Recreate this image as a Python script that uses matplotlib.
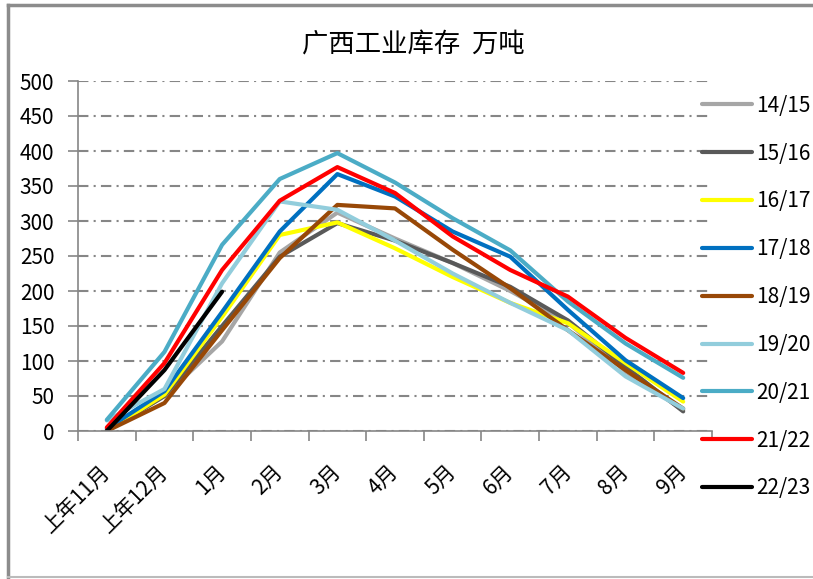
import matplotlib.pyplot as plt
from matplotlib.lines import Line2D

plt.rcParams['font.family'] = ['Noto Sans CJK SC', 'DejaVu Sans']

months = ["上年11月", "上年12月", "1月", "2月", "3月", "4月", "5月", "6月", "7月", "8月", "9月"]

s1415 = [0, 50, 128, 255, 312, 275, 240, 200, 155, 85, 30]
s1516 = [0, 50, 150, 249, 297, 272, 240, 206, 158, 92, 28]
s1617 = [0, 52, 163, 280, 298, 261, 220, 183, 154, 97, 42]
s1718 = [3, 57, 170, 285, 367, 335, 285, 249, 173, 101, 47]
s1819 = [0, 40, 144, 247, 323, 318, 259, 204, 144, 87, 32]
s1920 = [15, 60, 211, 328, 316, 272, 225, 183, 144, 78, 32]
s2021 = [16, 113, 266, 360, 397, 355, 304, 258, 185, 125, 76]
s2122 = [5, 97, 230, 329, 377, 340, 278, 230, 192, 133, 83]
s2223 = [0, 87, 199]

labels = ["14/15", "15/16", "16/17", "17/18", "18/19", "19/20", "20/21", "21/22", "22/23"]
series = [s1415, s1516, s1617, s1718, s1819, s1920, s2021, s2122, s2223]
colors = ["#A6A6A6", "#595959", "#FFFF00", "#0070C0", "#984807",
          "#92CDDC", "#4BACC6", "#FF0000", "#000000"]

fig = plt.figure(figsize=(8.13, 5.79), dpi=100)
ax = fig.add_axes([78 / 813, 148 / 579, 634 / 813, 350 / 579])

for ys, lab, c in zip(series, labels, colors):
    ax.plot(range(len(ys)), ys, color=c, lw=3, label=lab, solid_capstyle='round')

ax.set_ylim(0, 500)
ax.set_xlim(-0.5, 10.4)
ax.set_yticks(range(0, 501, 50))
ax.grid(axis='y', color='#868686', lw=1.5, linestyle=(0, (5, 2.5, 1, 2.5)))
ax.set_axisbelow(True)

ax.set_xticks(range(len(months)))
ax.set_xticklabels(months, rotation=45, ha='right', va='center', rotation_mode='anchor')
ax.set_xticks([i - 0.5 for i in range(len(months) + 1)], minor=True)
ax.tick_params(axis='x', which='major', length=0, pad=27, labelsize=15)
ax.tick_params(axis='x', which='minor', length=7, color='#868686', width=1.2)
ax.tick_params(axis='y', length=7, color='#868686', width=1.2, pad=10, labelsize=15)

for side in ['top', 'right']:
    ax.spines[side].set_visible(False)
for side in ['left', 'bottom']:
    ax.spines[side].set_color('#868686')
    ax.spines[side].set_linewidth(1.2)

fig.text(413 / 813, 1 - 45 / 579, "广西工业库存  万吨", ha='center', va='center', fontsize=19)

fig.legend(loc='upper left', bbox_to_anchor=(683 / 813, 1 - 76 / 579), frameon=False,
           fontsize=15, handlelength=2.4, handletextpad=0.2, labelspacing=1.24)

# outer chart border
fig.add_artist(Line2D([8 / 813, 8 / 813], [2 / 579, 1 - 5 / 579], color='#8c8c8c', lw=2.5))
fig.add_artist(Line2D([8 / 813, 1], [1 - 5 / 579, 1 - 5 / 579], color='#8c8c8c', lw=2.5))
fig.add_artist(Line2D([8 / 813, 1], [2 / 579, 2 / 579], color='#bbbbbb', lw=1.5))

fig.savefig("out.png", dpi=100)
